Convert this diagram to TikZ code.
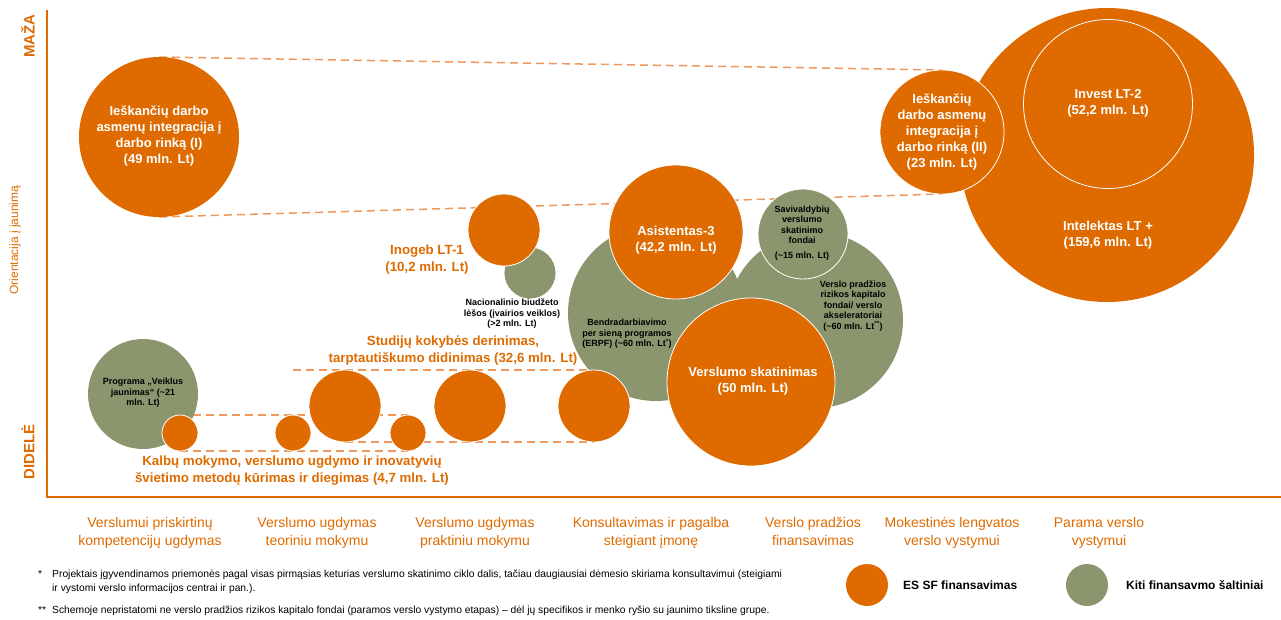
\documentclass[tikz,border=0pt]{standalone}
\usepackage{fontspec}
\setmainfont{Liberation Sans}
\usetikzlibrary{backgrounds}

\definecolor{esforange}{RGB}{222,106,0}
\definecolor{kitigreen}{RGB}{139,150,110}
\definecolor{dashorange}{RGB}{238,152,92}

\tikzset{
  esf/.style={circle, fill=esforange, draw=white, line width=0.8pt, inner sep=0pt, outer sep=0pt},
  kiti/.style={circle, fill=kitigreen, draw=white, line width=0.8pt, inner sep=0pt, outer sep=0pt},
  intxt/.style={text=white, font=\fontsize{13}{16}\selectfont\bfseries, align=center, inner sep=0pt},
  orlbl/.style={text=esforange, font=\fontsize{13.3}{17}\selectfont\bfseries, align=center, inner sep=0pt},
  smlbl/.style={text=black, font=\fontsize{9}{10.5}\selectfont\bfseries, align=center, inner sep=0pt},
  catlbl/.style={text=esforange, font=\fontsize{14}{18}\selectfont, align=center, inner sep=0pt, anchor=base},
  fnote/.style={text=black, font=\fontsize{10.3}{14}\selectfont, align=left, inner sep=0pt, anchor=base west},
  dashln/.style={dashorange, line width=1.5pt, dash pattern=on 8pt off 5pt},
}

\begin{document}
\begin{tikzpicture}[x=1pt, y=-1pt]
  \useasboundingbox (0,0) rectangle (1281,619);

  % axes
  \draw[esforange, line width=2.5pt] (47,10) -- (47,497) -- (1281,497);
  \node[rotate=90, text=esforange, font=\fontsize{15}{17}\selectfont\bfseries] (maza) at (28,36) {MAŽA};
  \node[rotate=90, text=esforange, font=\fontsize{12}{14}\selectfont] (orient) at (15,240) {Orientacija į jaunimą};
  \node[rotate=90, text=esforange, font=\fontsize{15}{17}\selectfont\bfseries] (didele) at (28,452) {DIDELĖ};

  % bubbles
  \node[esf, draw=none, minimum size=160pt] (rinkaI) at (159,137) {};
  \node[kiti, draw=none, minimum size=110pt] (veiklus) at (143,394) {};
  \node[esf, minimum size=36pt] (kalbA) at (180,433) {};
  \node[esf, minimum size=36pt] (kalbB) at (293,433) {};
  \node[esf, minimum size=72pt] (studA) at (345,406) {};
  \node[esf, minimum size=36pt] (kalbC) at (408,433) {};
  \node[esf, minimum size=72pt] (studB) at (470,406) {};
  \node[kiti, draw=none, minimum size=176pt] (akselerat) at (815,320) {};
  \node[kiti, draw=none, minimum size=176pt] (erpf) at (656,313) {};
  \node[kiti, minimum size=90pt] (savival) at (803,234) {};
  \node[kiti, minimum size=52pt] (nacional) at (530,273) {};
  \node[esf, minimum size=72pt] (inogeb) at (504,230) {};
  \node[esf, minimum size=134pt] (asist) at (676,232) {};
  \node[esf, minimum size=72pt] (studC) at (594,406) {};
  \node[esf, minimum size=168pt] (skatin) at (751,382) {};
  \node[esf, draw=none, minimum size=294pt] (intelekt) at (1107,155) {};
  \node[circle, draw=white, line width=0.8pt, inner sep=0pt, minimum size=169pt] (invest) at (1108,104) {};
  \node[esf, minimum size=124pt] (rinkaII) at (942,132) {};

  \begin{scope}[on background layer]
    \draw[dashln] (rinkaI.north) -- (rinkaII.north);
    \draw[dashln] (rinkaI.south) -- (rinkaII.south);
    \draw[dashln] (kalbB |- studA.north) -- (studC.north);
    \draw[dashln] (kalbA.north) -- (kalbC.north);
    \draw[dashln] (studA.south) -- (studC.south);
    \draw[dashln] (kalbA.south) -- (kalbC.south);
  \end{scope}

  % texts in bubbles
  \node[intxt] (rinkaItxt) at (159,136) {Ieškančių darbo\\asmenų integracija į\\darbo rinką (I)\\(49 mln. Lt)};
  \node[intxt] (rinkaIItxt) at (942,132) {Ieškančių\\darbo asmenų\\integracija į\\darbo rinką (II)\\(23 mln. Lt)};
  \node[intxt] (investtxt) at (1108,103) {Invest LT-2\\(52,2 mln. Lt)};
  \node[intxt] (intelekttxt) at (1108,235) {Intelektas LT +\\(159,6 mln. Lt)};
  \node[intxt] (asisttxt) at (676,240) {Asistentas-3\\(42,2 mln. Lt)};
  \node[intxt] (skatintxt) at (753,381) {Verslumo skatinimas\\(50 mln. Lt)};
  \node[smlbl] (veiklustxt) at (143,393) {Programa „Veiklus\\jaunimas“ (\textasciitilde21\\mln. Lt)};
  \node[smlbl] (nacionaltxt) at (512,314) {Nacionalinio biudžeto\\lėšos (įvairios veiklos)\\(>2 mln. Lt)};
  \node[smlbl] (erpftxt) at (627,334) {Bendradarbiavimo\\per sieną programos\\(ERPF) (\textasciitilde60 mln. Lt\textsuperscript{*})};
  \node[smlbl] (savivaltxt) at (802,233) {Savivaldybių\\verslumo\\skatinimo\\fondai\\[4pt](\textasciitilde15 mln. Lt)};
  \node[smlbl] (akselerattxt) at (853,306) {Verslo pradžios\\rizikos kapitalo\\fondai/ verslo\\akseleratoriai\\(\textasciitilde60 mln. Lt\textsuperscript{**})};

  % orange labels
  \node[orlbl] (inogebtxt) at (427,260) {Inogeb LT-1\\(10,2 mln. Lt)};
  \node[orlbl] (studtxt) at (453,351) {Studijų kokybės derinimas,\\tarptautiškumo didinimas (32,6 mln. Lt)};
  \node[orlbl] (kalbtxt) at (292,471) {Kalbų mokymo, verslumo ugdymo ir inovatyvių\\švietimo metodų kūrimas ir diegimas (4,7 mln. Lt)};

  % categories
  \node[catlbl] (kat1) at (150,545) {Verslumui priskirtinų\\kompetencijų ugdymas};
  \node[catlbl] (kat2) at (317,545) {Verslumo ugdymas\\teoriniu mokymu};
  \node[catlbl] (kat3) at (475,545) {Verslumo ugdymas\\praktiniu mokymu};
  \node[catlbl] (kat4) at (651,545) {Konsultavimas ir pagalba\\steigiant įmonę};
  \node[catlbl] (kat5) at (813,545) {Verslo pradžios\\finansavimas};
  \node[catlbl] (kat6) at (952,545) {Mokestinės lengvatos\\verslo vystymui};
  \node[catlbl] (kat7) at (1099,545) {Parama verslo\\vystymui};

  % footnotes
  \node[fnote] (fn1star) at (38,577) {*};
  \node[fnote] (fn1) at (52,591) {Projektais įgyvendinamos priemonės pagal visas pirmąsias keturias verslumo skatinimo ciklo dalis, tačiau daugiausiai dėmesio skiriama konsultavimui (steigiami\\ir vystomi verslo informacijos centrai ir pan.).};
  \node[fnote] (fn2star) at (38,613) {**};
  \node[fnote] (fn2) at (52,613) {Schemoje nepristatomi ne verslo pradžios rizikos kapitalo fondai (paramos verslo vystymo etapas) -- dėl jų specifikos ir menko ryšio su jaunimo tiksline grupe.};

  % legend
  \node[esf, draw=none, minimum size=42pt] (legesf) at (867,585) {};
  \node[anchor=west, inner sep=0pt, font=\fontsize{12}{14}\selectfont\bfseries] (legesftxt) at (903,585) {ES SF finansavimas};
  \node[kiti, draw=none, minimum size=42pt] (legkiti) at (1087,585) {};
  \node[anchor=west, inner sep=0pt, font=\fontsize{12}{14}\selectfont\bfseries] (legkititxt) at (1126,585) {Kiti finansavmo šaltiniai};
\end{tikzpicture}
\end{document}
